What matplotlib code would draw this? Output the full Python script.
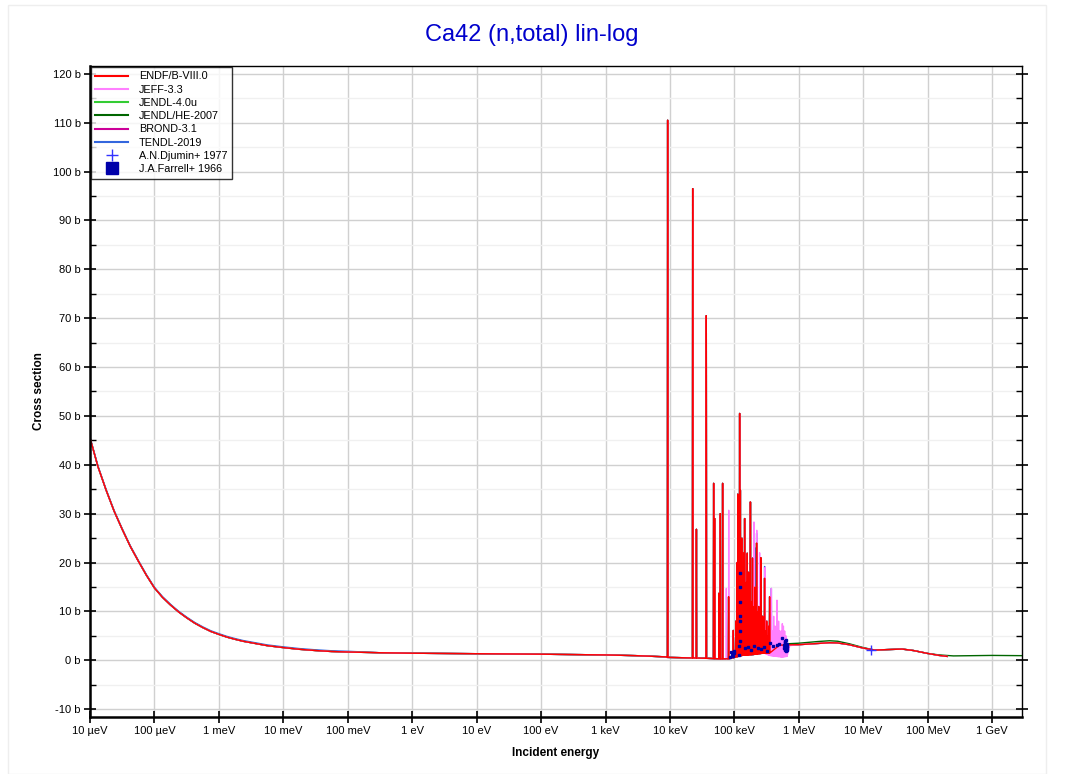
import numpy as np
import matplotlib
matplotlib.use('Agg')
import matplotlib.pyplot as plt
from matplotlib.lines import Line2D
from matplotlib.patches import Rectangle
from matplotlib.ticker import FixedLocator, MultipleLocator

plt.rcParams['font.family'] = ['Liberation Sans', 'DejaVu Sans']

# --- valeurs ---
# partie lisse basse energie (eV, barns)
E_lisse = [1e-5, 1.33e-5, 1.78e-5, 2.37e-5, 3.16e-5, 4.22e-5, 5.62e-5, 7.5e-5, 1e-4,
           1.33e-4, 1.78e-4, 2.37e-4, 3.16e-4, 4.22e-4, 5.62e-4, 7.5e-4, 1e-3,
           1.33e-3, 1.78e-3, 2.37e-3, 3.16e-3, 4.22e-3, 5.62e-3, 7.5e-3, 1e-2,
           1.78e-2, 3.16e-2, 5.62e-2, 0.1, 0.316, 1, 10, 100, 1000, 3000, 6000, 8800]
sig_lisse = [45.5, 39.6, 34.8, 30.5, 26.8, 23.3, 20.3, 17.4, 14.8,
             12.9, 11.3, 9.9, 8.7, 7.6, 6.7, 5.9, 5.3,
             4.75, 4.3, 3.9, 3.6, 3.3, 3.0, 2.8, 2.6,
             2.25, 2.0, 1.8, 1.7, 1.55, 1.45, 1.35, 1.25, 1.1, 0.95, 0.8, 0.7]
sig_tendl_lisse = [v + 0.15 for v in sig_lisse[:29]] + sig_lisse[29:]

# fond sous les resonances (eV, barns)
E_fond = [9.0e3, 2e4, 4e4, 6e4, 8e4, 1e5, 1.3e5, 2e5, 2.9e5]
sig_fond = [0.6, 0.5, 0.4, 0.3, 0.3, 0.6, 1.0, 1.2, 1.5]
# fond JEFF prolonge jusqu'a 700 keV
E_fond_jeff = [3.5e5, 4.5e5, 5.5e5, 6.5e5, 7.2e5]
sig_fond_jeff = [1.0, 0.8, 0.7, 0.8, 3.0]

# resonances ENDF/B-VIII.0 (keV, barns)
res_E = [9.2, 22.5, 25.7, 36.6, 47.6, 49.3, 57.5, 60.4, 65.6, 81.3, 96.0,
         105, 110, 113, 117, 120.5, 123.6, 126, 130, 133, 136, 140, 144, 150, 153,
         158, 162, 166, 170, 177, 182, 186, 191, 196, 204, 209, 215, 221, 228,
         233, 240, 250, 257, 265, 275, 283, 294, 305, 317, 330, 340, 352]
res_sig = [110.5, 96.5, 26.8, 70.5, 36.2, 29.0, 13.7, 30.0, 36.2, 13.0, 6.1,
           8.0, 20.0, 34.0, 28.0, 50.5, 34.8, 18.0, 25.0, 12.0, 15.0, 22.0, 29.0, 10.0, 16.0,
           21.9, 8.0, 18.0, 14.0, 32.4, 9.0, 12.0, 20.9, 11.0, 7.0, 15.0, 13.0, 24.0, 8.0,
           10.0, 11.0, 6.0, 21.0, 9.0, 9.0, 7.0, 16.8, 6.0, 8.0, 5.0, 7.0, 13.0]

# resonances en plus dans JEFF-3.3 (keV, barns)
jeff_E = [74.9, 81.5, 201, 222, 246, 300, 310, 320, 330, 338, 345, 360, 367, 374, 382,
          390, 398, 406, 413, 420, 428, 435, 446, 457, 470, 477, 484, 492, 500, 510,
          520, 527, 535, 545, 554, 565, 575, 582, 590, 601, 610, 620, 630, 640, 650,
          660, 675, 690]
jeff_sig = [14.7, 30.7, 28.3, 26.6, 22.0, 19.0, 4.0, 8.0, 5.0, 6.0, 7.0, 3.0, 5.0, 14.7, 4.0,
            6.0, 5.0, 9.0, 4.0, 5.0, 7.0, 6.0, 5.0, 12.3, 4.0, 6.0, 8.0, 5.0, 6.0, 4.0,
            5.0, 6.0, 4.0, 5.0, 7.5, 5.0, 7.0, 4.0, 5.0, 6.0, 4.0, 4.0, 5.0, 4.0, 3.0,
            3.0, 3.5, 3.0]

# TENDL un peu plus haut sur quelques pics (keV, barns)
tendl_E = [294, 374, 209, 221]
tendl_sig = [19.2, 14.7, 23.0, 26.0]

# partie lisse haute energie (eV, barns)
E_haut = [2.9e5, 5e5, 1e6, 2e6, 3e6, 4e6, 6e6, 1e7, 1.5e7, 2.5e7, 4e7, 6e7, 1e8, 1.5e8, 2e8]
sig_haut = [3.3, 3.1, 3.2, 3.45, 3.6, 3.55, 3.2, 2.5, 2.1, 2.2, 2.3, 2.0, 1.4, 1.0, 0.8]
E_he = [2.9e5, 5e5, 1e6, 2e6, 3e6, 4e6, 6e6, 1e7, 1.5e7, 2.5e7, 4e7, 6e7, 1e8, 1.5e8,
        2.5e8, 5e8, 1e9, 2.9e9]
sig_he = [3.3, 3.3, 3.5, 3.85, 4.0, 3.9, 3.4, 2.6, 2.1, 2.2, 2.3, 2.0, 1.4, 1.1,
          0.9, 0.95, 1.0, 0.95]

# donnees experimentales
djumin_E = [1.3e7]
djumin_sig = [2.1]
farrell_E = [8.6e4, 8.9e4, 9.2e4, 9.5e4, 9.8e4, 1.0e5, 1.18e5, 1.19e5, 1.2e5, 1.2e5, 1.21e5,
             1.21e5, 1.22e5, 1.22e5, 1.23e5, 1.45e5, 1.6e5, 1.8e5, 2.0e5, 2.3e5,
             2.6e5, 2.9e5, 3.2e5, 3.6e5, 4.0e5, 4.5e5, 5.0e5, 5.5e5, 5.8e5, 6.0e5,
             6.1e5, 6.2e5, 6.3e5, 6.4e5, 6.5e5, 6.6e5, 5.9e5, 6.05e5, 6.15e5, 6.25e5,
             6.35e5, 6.45e5, 6.55e5]
farrell_sig = [0.6, 1.6, 1.0, 0.8, 1.4, 2.0, 1.0, 3.0, 6.0, 9.0, 12.0,
               15.0, 17.8, 8.0, 4.0, 2.5, 2.8, 2.2, 3.0, 2.6,
               2.4, 2.7, 2.0, 3.5, 2.9, 3.1, 3.3, 4.5, 2.5, 3.8,
               2.2, 4.0, 3.0, 2.6, 3.4, 3.0, 3.2, 2.4, 3.6, 2.0, 4.2, 2.8, 2.2]

libs = ['ENDF/B-VIII.0', 'JEFF-3.3', 'JENDL-4.0u', 'JENDL/HE-2007', 'BROND-3.1', 'TENDL-2019']
couleurs = ['#ff0000', '#ff80ff', '#33cc33', '#006600', '#cc0099', '#3366dd']


def courbe(E_res_keV, sig_res, E_h, s_h, s_bas=sig_lisse, Ef=E_fond, sf=sig_fond):
    # fond + pics etroits, puis les parties lisses de chaque cote
    E = list(E_lisse) + list(Ef)
    s = list(s_bas) + list(sf)
    for e, p in zip(np.array(E_res_keV) * 1e3, sig_res):
        b = np.interp(np.log10(e), np.log10(Ef), sf)
        E += [e * 0.992, e, e * 1.008]
        s += [b, p, b]
    for e, v in zip(E_h, s_h):
        if e > max(Ef):
            E.append(e)
            s.append(v)
    ordre = np.argsort(E, kind='stable')
    return np.array(E)[ordre], np.array(s)[ordre]


fig = plt.figure(figsize=(10.67, 7.74), dpi=100)
fig.patches.append(Rectangle((8 / 1067, 0), 1038 / 1067, 769 / 774, transform=fig.transFigure,
                             fill=False, edgecolor='#eeeeee', linewidth=1.0))
ax = fig.add_axes([90 / 1067, 1 - 717 / 774, 932 / 1067, 651 / 774])

lw = 1.0
# ordre de trace: TENDL dessous, ENDF dessus
E, s = courbe(res_E + tendl_E, res_sig + tendl_sig, E_haut, sig_haut, sig_tendl_lisse)
ax.plot(E, s, color=couleurs[5], lw=lw)
E, s = courbe(res_E, res_sig, E_haut, sig_haut)
ax.plot(E, s, color=couleurs[4], lw=lw)
ax.plot(E, s, color=couleurs[2], lw=lw)
E, s = courbe(res_E, res_sig, E_he, sig_he)
ax.plot(E, s, color=couleurs[3], lw=lw)
E, s = courbe(res_E + jeff_E, res_sig + jeff_sig, E_haut, sig_haut,
              Ef=E_fond + E_fond_jeff, sf=sig_fond + sig_fond_jeff)
ax.plot(E, s, color=couleurs[1], lw=lw)
E, s = courbe(res_E, res_sig, E_haut, sig_haut)
ax.plot(E, s, color=couleurs[0], lw=lw)

ax.plot(farrell_E, farrell_sig, ls='none', marker='s', ms=2, color='#0000aa', mec='#0000aa')
ax.plot(djumin_E, djumin_sig, ls='none', marker='+', ms=7, mew=1.0, color='#3333ff')

ax.set_xscale('log')
ax.set_xlim(1e-5, 2.9e9)
ax.set_ylim(-11.6, 121.6)

xt = [1e-5 * 10 ** k for k in range(15)]
xl = ['10 µeV', '100 µeV', '1 meV', '10 meV', '100 meV', '1 eV', '10 eV', '100 eV',
      '1 keV', '10 keV', '100 keV', '1 MeV', '10 MeV', '100 MeV', '1 GeV']
ax.xaxis.set_major_locator(FixedLocator(xt))
ax.xaxis.set_minor_locator(FixedLocator([]))
ax.set_xticklabels(xl)
yt = list(range(-10, 121, 10))
ax.yaxis.set_major_locator(FixedLocator(yt))
ax.set_yticklabels(['%d b' % v for v in yt])
ax.yaxis.set_minor_locator(MultipleLocator(5))

ax.grid(which='major', color='#d0d0d0', lw=1.0)
ax.grid(which='minor', axis='y', color='#f0f0f0', lw=1.0)
ax.set_axisbelow(True)

ax.tick_params(which='major', direction='inout', length=9, width=1.2, labelsize=8, pad=2)
ax.tick_params(axis='y', which='minor', direction='in', length=4, width=1.0, right=True)
ax.tick_params(axis='y', which='major', right=True)
for cote in ['left', 'bottom']:
    ax.spines[cote].set_linewidth(1.8)
for cote in ['top', 'right']:
    ax.spines[cote].set_linewidth(1.0)

ax.set_xlabel('Incident energy', fontsize=8.5, fontweight='bold', labelpad=8)
ax.set_ylabel('Cross section', fontsize=8.5, fontweight='bold', labelpad=6)
fig.text(532 / 1067, 1 - 35 / 774, 'Ca42 (n,total) lin-log', ha='center', va='center',
         fontsize=17, color='#0000cc')

poignees = [Line2D([], [], color=c, lw=1.5) for c in couleurs]
poignees.append(Line2D([], [], ls='none', marker='+', ms=9, mew=1.0, color='#3333ff'))
poignees.append(Line2D([], [], ls='none', marker='s', ms=8, color='#0000aa'))
leg = ax.legend(poignees, libs + ['A.N.Djumin+ 1977', 'J.A.Farrell+ 1966'], loc='upper left',
                fontsize=7.8, frameon=True, fancybox=False, borderaxespad=0.1,
                handlelength=3.0, labelspacing=0.3, borderpad=0.4, handletextpad=1.0)
leg.get_frame().set_edgecolor('black')
leg.get_frame().set_linewidth(1.0)

fig.savefig('out.png', dpi=100)
